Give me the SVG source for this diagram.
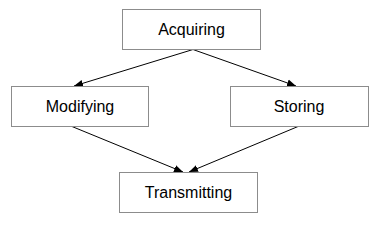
<svg xmlns="http://www.w3.org/2000/svg" width="382" height="225" viewBox="0 0 382 225">
<style>
.box{fill:#fff;stroke:#8c8c8c;stroke-width:1}
.lbl{font-family:"Liberation Sans",Arial,sans-serif;font-size:16px;fill:#000;text-anchor:middle}
.edge{stroke:#000;stroke-width:1;fill:none;marker-end:url(#ah)}
</style>
<defs>
<marker id="ah" viewBox="0 0 10 10" refX="10" refY="5" markerWidth="9" markerHeight="9" markerUnits="userSpaceOnUse" orient="auto">
<path d="M0,1 L10,5 L0,9 Z" fill="#000"/>
</marker>
</defs>
<rect width="382" height="225" fill="#fff"/>
<g id="connectors">
<line class="edge" x1="193" y1="49.5" x2="74" y2="86"/>
<line class="edge" x1="193" y1="49.5" x2="296" y2="86"/>
<line class="edge" x1="72" y1="126.5" x2="183" y2="172"/>
<line class="edge" x1="298" y1="126.5" x2="189" y2="172"/>
</g>
<g id="acquiring">
<rect class="box" x="122.5" y="9.5" width="138" height="40"/>
<text class="lbl" x="191.5" y="35">Acquiring</text>
</g>
<g id="modifying">
<rect class="box" x="11.5" y="86.5" width="137" height="40"/>
<text class="lbl" x="80" y="112">Modifying</text>
</g>
<g id="storing">
<rect class="box" x="230.5" y="86.5" width="138" height="40"/>
<text class="lbl" x="299" y="112">Storing</text>
</g>
<g id="transmitting">
<rect class="box" x="119.5" y="172.5" width="138" height="40"/>
<text class="lbl" x="188.5" y="198">Transmitting</text>
</g>
</svg>
